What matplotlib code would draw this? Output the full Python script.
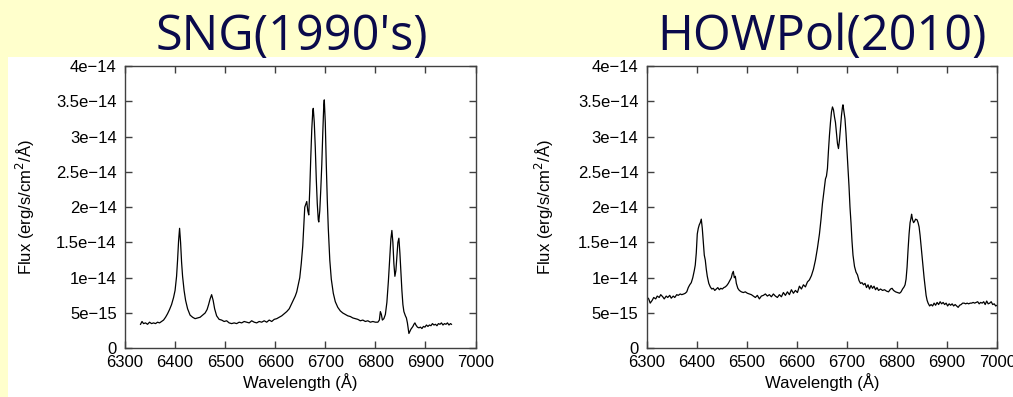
import matplotlib
matplotlib.use("Agg")
import matplotlib.pyplot as plt
import numpy as np
from matplotlib.patches import Rectangle

# ---------------- data ----------------
titles = ["SNG(1990's)", "HOWPol(2010)"]
x_ticks = [6300, 6400, 6500, 6600, 6700, 6800, 6900, 7000]
y_ticks = [0, 5e-15, 1e-14, 1.5e-14, 2e-14, 2.5e-14, 3e-14, 3.5e-14, 4e-14]
y_tick_labels = ["0", "5e\u221215", "1e\u221214", "1.5e\u221214", "2e\u221214",
                 "2.5e\u221214", "3e\u221214", "3.5e\u221214", "4e\u221214"]
flux_unit = 1e-14

sng_wl = [6331, 6334, 6337, 6341, 6345, 6349, 6353, 6357, 6361, 6365, 6369, 6373, 6377, 6381,
          6385, 6389, 6393, 6397, 6400, 6403, 6405, 6407, 6409, 6411, 6413, 6415, 6418, 6421,
          6425, 6430, 6435, 6440, 6445, 6450, 6455, 6460, 6464, 6467, 6470, 6473, 6476, 6479,
          6483, 6488, 6493, 6498, 6503, 6508, 6513, 6518, 6523, 6528, 6533, 6538, 6543, 6548,
          6553, 6558, 6563, 6568, 6573, 6578, 6583, 6588, 6593, 6598, 6603, 6608, 6613, 6618,
          6623, 6628, 6632, 6636, 6640, 6643, 6646, 6649, 6652, 6655, 6657, 6659, 6661, 6663,
          6665, 6667, 6669, 6671, 6673, 6675, 6676, 6678, 6680, 6682, 6684, 6686, 6687, 6689,
          6691, 6693, 6695, 6697, 6698, 6700, 6702, 6704, 6706, 6709, 6712, 6716, 6720, 6725,
          6730, 6735, 6740, 6745, 6750, 6755, 6760, 6765, 6770, 6775, 6780, 6785, 6790, 6795,
          6800, 6805, 6808, 6810, 6812, 6814, 6817, 6820, 6823, 6826, 6829, 6831, 6833, 6835,
          6837, 6839, 6841, 6843, 6845, 6847, 6849, 6851, 6853, 6855, 6857, 6860, 6862, 6864,
          6866, 6867, 6869, 6871, 6873, 6875, 6877, 6879, 6881, 6884, 6887, 6890, 6893, 6896,
          6899, 6902, 6905, 6908, 6911, 6914, 6917, 6920, 6923, 6926, 6929, 6932, 6935, 6938,
          6941, 6944, 6947, 6950, 6952]
sng_flux = [0.34, 0.38, 0.35, 0.36, 0.34, 0.37, 0.35, 0.36, 0.35, 0.37, 0.36, 0.38, 0.40, 0.44,
            0.49, 0.55, 0.62, 0.72, 0.82, 1.02, 1.25, 1.52, 1.70, 1.50, 1.22, 1.02, 0.82, 0.68,
            0.56, 0.47, 0.44, 0.42, 0.43, 0.44, 0.47, 0.50, 0.55, 0.62, 0.70, 0.76, 0.68, 0.56,
            0.46, 0.41, 0.40, 0.38, 0.39, 0.36, 0.35, 0.36, 0.35, 0.37, 0.36, 0.38, 0.37, 0.36,
            0.39, 0.37, 0.36, 0.38, 0.37, 0.39, 0.37, 0.40, 0.38, 0.41, 0.42, 0.44, 0.46, 0.49,
            0.52, 0.56, 0.62, 0.68, 0.74, 0.80, 0.90, 1.00, 1.20, 1.45, 1.72, 2.00, 2.04, 2.08,
            1.95, 1.89, 2.25, 2.70, 3.10, 3.36, 3.40, 3.20, 2.85, 2.40, 2.05, 1.82, 1.79, 1.95,
            2.25, 2.60, 3.05, 3.45, 3.52, 3.20, 2.60, 2.10, 1.70, 1.25, 0.98, 0.78, 0.66, 0.58,
            0.53, 0.50, 0.48, 0.46, 0.45, 0.43, 0.42, 0.41, 0.39, 0.40, 0.38, 0.39, 0.37, 0.38,
            0.37, 0.37, 0.40, 0.52, 0.48, 0.40, 0.42, 0.48, 0.65, 0.95, 1.30, 1.55, 1.67, 1.50,
            1.20, 1.02, 1.10, 1.30, 1.50, 1.56, 1.35, 1.08, 0.82, 0.62, 0.52, 0.46, 0.43, 0.36,
            0.26, 0.21, 0.24, 0.27, 0.29, 0.31, 0.34, 0.36, 0.33, 0.30, 0.29, 0.30, 0.28, 0.31,
            0.30, 0.33, 0.31, 0.33, 0.32, 0.35, 0.33, 0.34, 0.32, 0.35, 0.34, 0.36, 0.33, 0.35,
            0.34, 0.36, 0.33, 0.35, 0.34]

howpol_wl = [6300, 6304, 6307, 6311, 6314, 6318, 6321, 6325, 6328, 6332, 6335, 6339, 6342, 6346,
             6349, 6353, 6356, 6360, 6363, 6367, 6370, 6374, 6377, 6380, 6383, 6386, 6389, 6392,
             6395, 6397, 6399, 6401, 6403, 6405, 6407, 6409, 6411, 6413, 6415, 6417, 6419, 6421,
             6424, 6427, 6430, 6433, 6436, 6439, 6442, 6445, 6448, 6451, 6454, 6457, 6460, 6463,
             6466, 6469, 6471, 6473, 6475, 6477, 6479, 6482, 6485, 6489, 6493, 6497, 6501, 6505,
             6509, 6513, 6517, 6521, 6525, 6529, 6533, 6537, 6541, 6545, 6549, 6553, 6557, 6561,
             6565, 6569, 6573, 6577, 6581, 6585, 6589, 6593, 6597, 6601, 6605, 6609, 6613, 6617,
             6621, 6625, 6629, 6633, 6637, 6641, 6645, 6648, 6651, 6654, 6657, 6659, 6661, 6663,
             6665, 6667, 6669, 6671, 6673, 6675, 6677, 6679, 6681, 6683, 6685, 6687, 6689, 6691,
             6692, 6694, 6696, 6698, 6700, 6702, 6704, 6706, 6708, 6710, 6712, 6715, 6718, 6721,
             6724, 6727, 6730, 6733, 6736, 6739, 6742, 6745, 6748, 6751, 6754, 6757, 6760, 6763,
             6767, 6771, 6775, 6779, 6783, 6787, 6790, 6793, 6797, 6801, 6805, 6808, 6811, 6814,
             6816, 6818, 6820, 6822, 6824, 6826, 6828, 6829, 6831, 6833, 6835, 6837, 6840, 6842,
             6844, 6846, 6848, 6850, 6852, 6854, 6856, 6858, 6860, 6862, 6865, 6868, 6871, 6874,
             6877, 6880, 6883, 6886, 6889, 6892, 6895, 6898, 6901, 6904, 6907, 6910, 6913, 6916,
             6919, 6922, 6925, 6928, 6931, 6934, 6937, 6940, 6943, 6946, 6949, 6952, 6955, 6958,
             6961, 6964, 6967, 6970, 6973, 6976, 6979, 6982, 6985, 6988, 6991, 6994, 6997, 7000]
howpol_flux = [0.73, 0.70, 0.64, 0.68, 0.72, 0.70, 0.74, 0.72, 0.76, 0.73, 0.70, 0.74, 0.72, 0.75,
               0.71, 0.74, 0.72, 0.76, 0.75, 0.77, 0.76, 0.77, 0.78, 0.80, 0.86, 0.90, 0.93, 1.00,
               1.10, 1.18, 1.35, 1.62, 1.70, 1.75, 1.78, 1.83, 1.70, 1.52, 1.32, 1.25, 1.12, 1.02,
               0.92, 0.87, 0.84, 0.85, 0.82, 0.84, 0.86, 0.83, 0.85, 0.84, 0.86, 0.87, 0.89, 0.92,
               0.96, 1.00, 1.06, 1.09, 1.00, 1.02, 0.92, 0.85, 0.82, 0.80, 0.79, 0.80, 0.78, 0.77,
               0.76, 0.74, 0.72, 0.75, 0.70, 0.74, 0.75, 0.77, 0.74, 0.76, 0.73, 0.77, 0.74, 0.72,
               0.76, 0.73, 0.79, 0.75, 0.80, 0.76, 0.83, 0.78, 0.82, 0.79, 0.88, 0.84, 0.90, 0.87,
               0.94, 0.97, 1.03, 1.12, 1.25, 1.42, 1.62, 1.82, 2.05, 2.22, 2.40, 2.44, 2.55, 2.80,
               3.02, 3.20, 3.35, 3.42, 3.38, 3.28, 3.20, 3.05, 2.90, 2.83, 2.95, 3.12, 3.30, 3.42,
               3.45, 3.35, 3.25, 3.05, 2.80, 2.55, 2.30, 2.00, 1.78, 1.52, 1.32, 1.16, 1.08, 1.04,
               0.96, 0.92, 0.93, 0.90, 0.92, 0.86, 0.90, 0.84, 0.89, 0.85, 0.88, 0.83, 0.86, 0.82,
               0.84, 0.82, 0.83, 0.81, 0.80, 0.84, 0.85, 0.82, 0.80, 0.79, 0.78, 0.80, 0.84, 0.87,
               0.90, 0.98, 1.15, 1.40, 1.62, 1.78, 1.85, 1.90, 1.82, 1.78, 1.80, 1.83, 1.82, 1.78,
               1.72, 1.60, 1.45, 1.30, 1.15, 1.00, 0.88, 0.75, 0.68, 0.64, 0.60, 0.62, 0.60, 0.64,
               0.61, 0.65, 0.62, 0.66, 0.63, 0.65, 0.62, 0.64, 0.60, 0.63, 0.61, 0.63, 0.60, 0.62,
               0.60, 0.58, 0.61, 0.62, 0.64, 0.64, 0.63, 0.64, 0.63, 0.64, 0.64, 0.65, 0.64, 0.65,
               0.66, 0.63, 0.65, 0.64, 0.66, 0.62, 0.67, 0.63, 0.64, 0.66, 0.62, 0.63, 0.60, 0.61]

# ---------------- figure ----------------
W, H = 1013, 397
fig = plt.figure(figsize=(W / 100, H / 100), dpi=100)
fig.patch.set_facecolor("#FFFFCC")
fig.patches.append(Rectangle((8 / W, 0), 1 - 8 / W, (H - 57) / H,
                             transform=fig.transFigure, facecolor="white",
                             edgecolor="none", zorder=-10))

tick_font = "Liberation Sans"
title_color = "#0A0A4C"
spine_color = "#404040"
fs = 12

axes_left = [125 / W, 646.7 / W]
ax_w = 350.5 / W
ax_b = (H - 348.3) / H
ax_h = (348.3 - 66) / H
title_x = [292 / W, 822 / W]
ylabel_x = [25 / W, 544 / W]

series = [(sng_wl, sng_flux), (howpol_wl, howpol_flux)]

for i in range(2):
    ax = fig.add_axes([axes_left[i], ax_b, ax_w, ax_h], zorder=5)
    ax.set_facecolor("white")
    wl, fl = series[i]
    ax.plot(wl, np.array(fl) * flux_unit, color="black", lw=0.9)
    ax.set_xlim(6300, 7000)
    ax.set_ylim(0, 4e-14)
    ax.set_xticks(x_ticks)
    ax.set_xticklabels([str(v) for v in x_ticks], fontfamily=tick_font, fontsize=fs)
    ax.set_yticks(y_ticks)
    ax.set_yticklabels(y_tick_labels, fontfamily=tick_font, fontsize=fs)
    ax.tick_params(direction="in", length=5, width=1, color=spine_color,
                   top=True, right=True)
    ax.tick_params(axis="x", pad=5)
    ax.tick_params(axis="y", pad=6)
    for s in ax.spines.values():
        s.set_color(spine_color)
        s.set_linewidth(1)
    ax.set_xlabel("Wavelength (\u00c5)", fontfamily=tick_font, fontsize=fs, labelpad=2)
    fig.text(ylabel_x[i], ax_b + ax_h / 2, "Flux (erg/s/cm$^2$/\u00c5)",
             rotation=90, ha="center", va="center", fontfamily=tick_font, fontsize=fs)
    fig.text(title_x[i], (H - 50) / H, titles[i], ha="center", va="baseline",
             fontfamily="Open Sans", fontsize=35, color=title_color)

fig.savefig("out.png", dpi=100, facecolor=fig.get_facecolor())
